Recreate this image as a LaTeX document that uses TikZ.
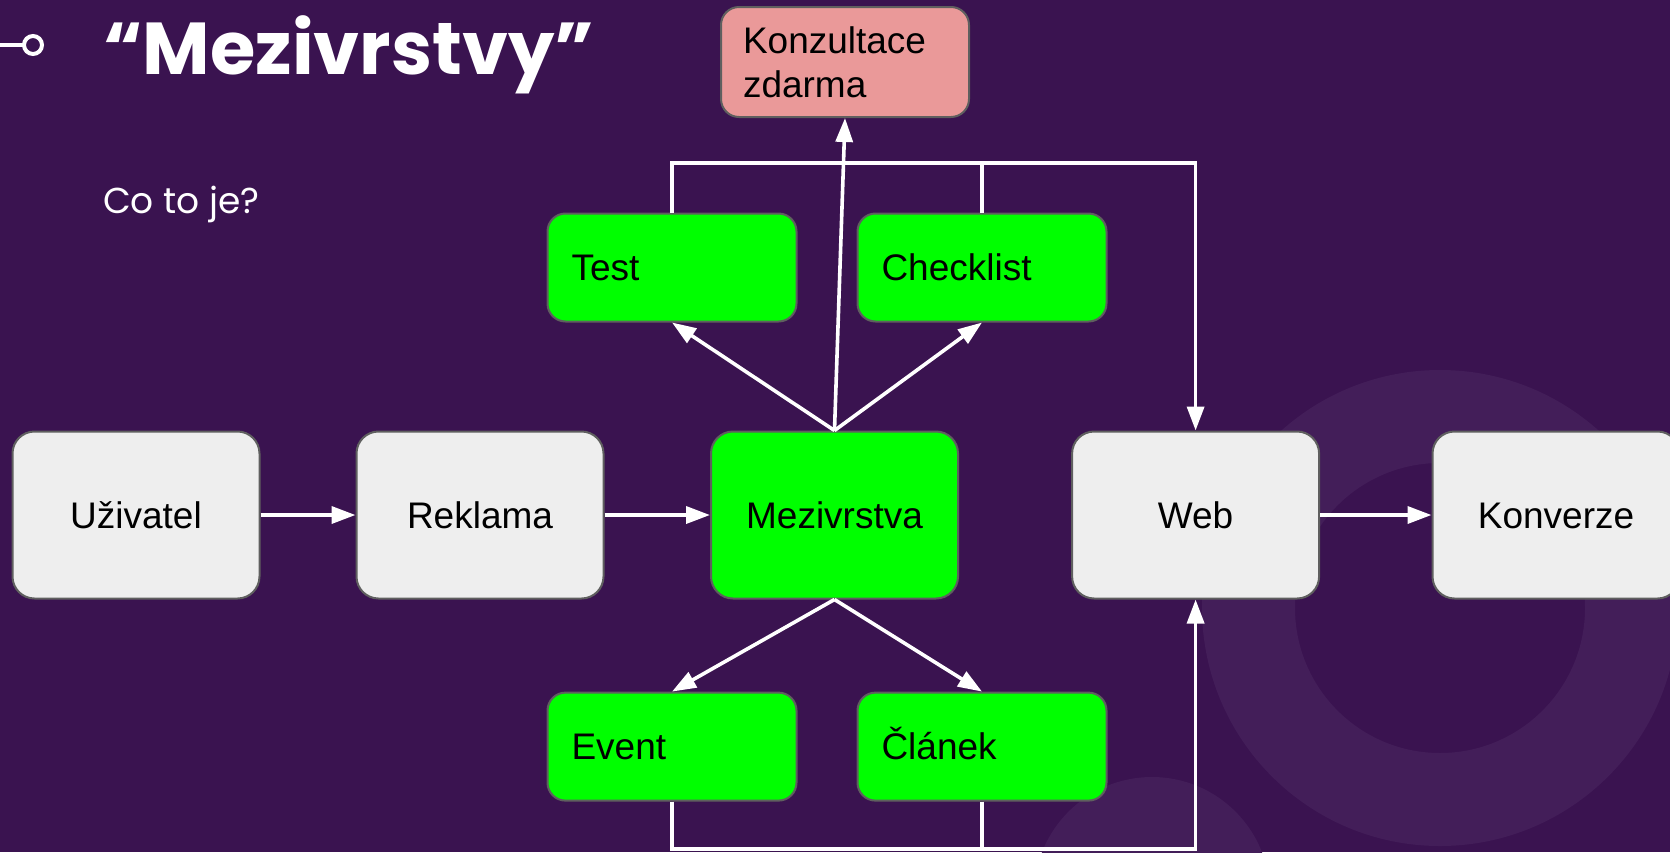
\documentclass[tikz,border=0pt]{standalone}
\usepackage{fontspec}
\setmainfont{Liberation Sans}
\newfontfamily\popfont{Poppins}
\usetikzlibrary{arrows.meta}
\definecolor{bg}{HTML}{3A1350}
\definecolor{ringc}{HTML}{431E59}
\definecolor{boxgray}{HTML}{EEEEEE}
\definecolor{boxgreen}{HTML}{00FF00}
\definecolor{boxpink}{HTML}{EA9999}
\definecolor{edgec}{HTML}{5F5F5F}
\begin{document}
\begin{tikzpicture}[x=1pt,y=-1pt,
  base/.style={draw=edgec, line width=2pt, text=black, inner ysep=0pt,
    font=\fontsize{37}{44}\selectfont},
  bigbox/.style={base, rounded corners=22pt, minimum width=247pt, minimum height=167pt,
    inner xsep=0pt, text height=26.5pt, text depth=0pt},
  graybox/.style={bigbox, fill=boxgray},
  greenbig/.style={bigbox, fill=boxgreen},
  smallbox/.style={base, fill=boxgreen, rounded corners=18pt, minimum height=108pt,
    text width=201pt, inner xsep=24pt, align=left, text height=26.5pt, text depth=0pt},
  pinkbox/.style={base, fill=boxpink, rounded corners=18pt, minimum height=110pt,
    text width=204pt, inner xsep=22pt, align=left},
  conn/.style={draw=white, line width=3.6pt, -{Triangle[length=24pt,width=17pt]}},
  plain/.style={draw=white, line width=3.6pt}
]
\useasboundingbox (0,0) rectangle (1670,852);
\clip (0,0) rectangle (1670,852);
\fill[bg] (0,0) rectangle (1670,852);
\fill[ringc, even odd rule] (1440,608) circle (238pt) (1440,608) circle (145pt);
\fill[ringc] (1152,895) circle (118pt);

% header
\draw[white, line width=4pt] (0,45) -- (23,45);
\draw[white, line width=4pt] (33,45) circle (9pt);
\node[anchor=base west, text=white, inner sep=0pt,
  font=\popfont\bfseries\fontsize{73.5}{80}\selectfont] (title) at (103,74) {“Mezivrstvy”};
\node[anchor=base west, text=white, inner sep=0pt,
  font=\popfont\fontsize{36}{40}\selectfont] (sub) at (103,213) {Co to je?};

% main row
\node[graybox] (u) at (136,515) {Uživatel};
\node[graybox] (r) at (480,515) {Reklama};
\node[greenbig] (m) at (834.5,515) {Mezivrstva};
\node[graybox] (w) at (1195.6,515) {Web};
\node[graybox] (k) at (1556,515) {Konverze};

% satellites
\node[smallbox] (test) at (672,267.5) {Test};
\node[smallbox] (check) at (982,267.5) {Checklist};
\node[smallbox] (event) at (672,746.6) {Event};
\node[smallbox] (clanek) at (982,746.6) {Článek};
\node[pinkbox] (konz) at (845,62) {Konzultace\\zdarma};

\coordinate (topline) at (0,163);
\coordinate (botline) at (0,849);

% connectors
\draw[conn] (u.east) -- (r.west);
\draw[conn] (r.east) -- (m.west);
\draw[conn] (w.east) -- (k.west);
\draw[conn] (m.north) -- (test.south);
\draw[conn] (m.north) -- (check.south);
\draw[conn] (m.north) -- (konz.south);
\draw[conn] (m.south) -- (event.north);
\draw[conn] (m.south) -- (clanek.north);
\draw[conn] (test.north) -- (test.north |- topline) -| (w.north);
\draw[plain] (check.north) -- (check.north |- topline);
\draw[conn] (event.south) -- (event.south |- botline) -| (w.south);
\draw[plain] (clanek.south) -- (clanek.south |- botline);
\end{tikzpicture}
\end{document}
